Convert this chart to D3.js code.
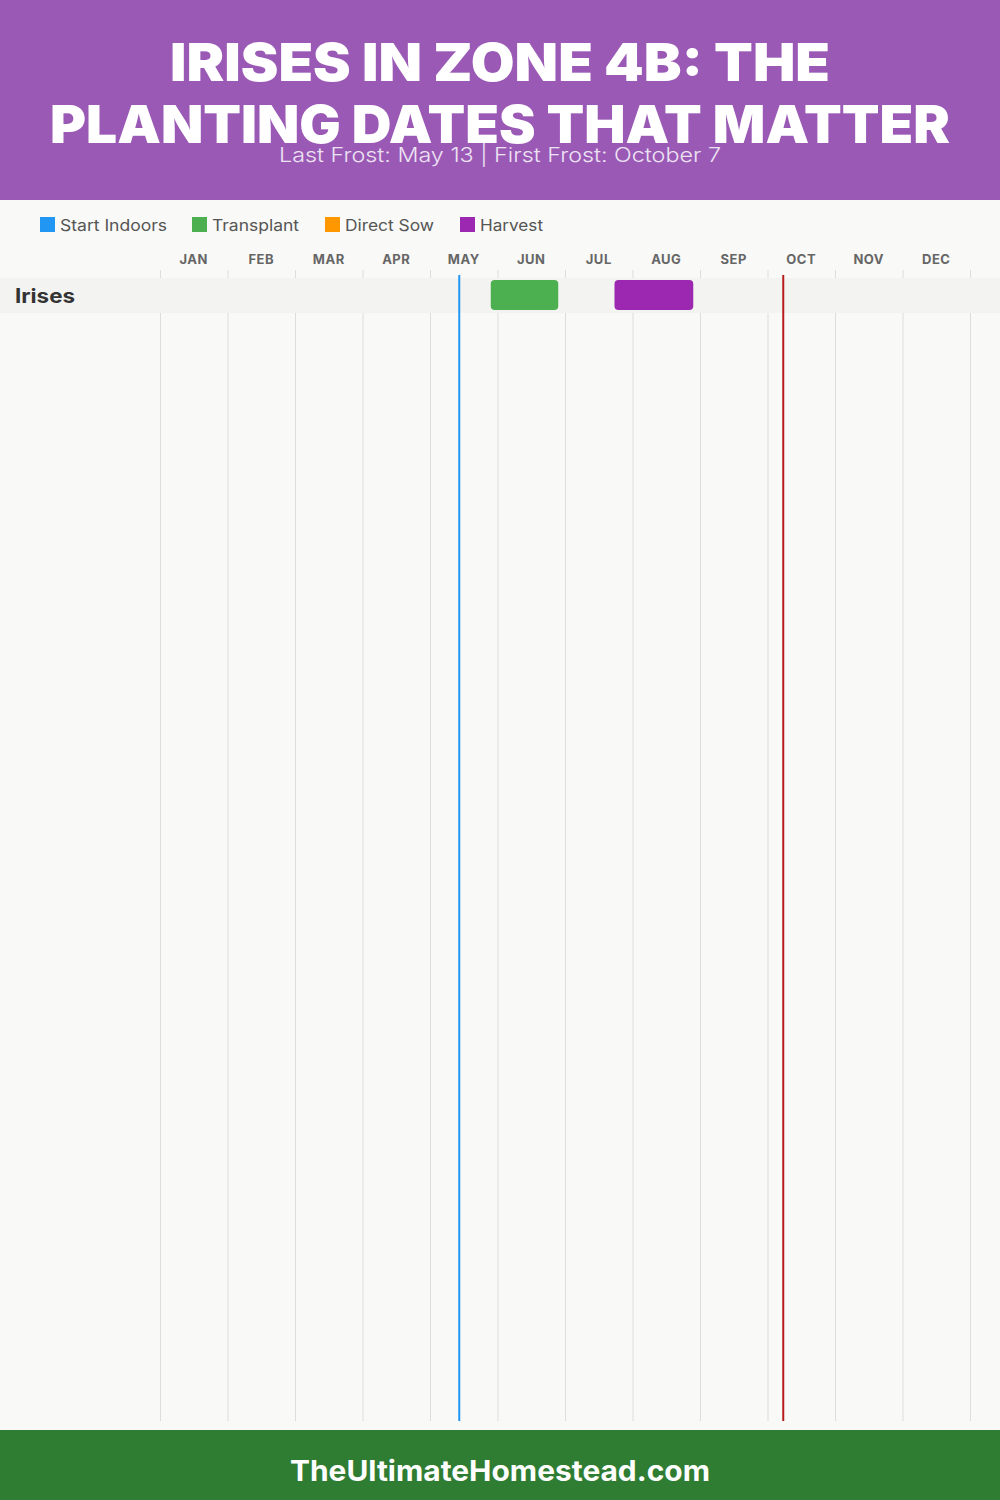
<!DOCTYPE html>
<html>
<head>
<meta charset="utf-8">
<script src="https://cdn.jsdelivr.net/npm/d3@7"></script>
<style>
  html, body { margin: 0; padding: 0; background: #f9f9f7; }
  svg { display: block; }
</style>
</head>
<body>
<svg id="chart" width="1000" height="1500"></svg>
<script>
// ---- data ----
const titleLines = ["IRISES IN ZONE 4B: THE", "PLANTING DATES THAT MATTER"];
const subtitle = "Last Frost: May 13 | First Frost: October 7";
const months = ["JAN","FEB","MAR","APR","MAY","JUN","JUL","AUG","SEP","OCT","NOV","DEC"];
const legendNames = ["Start Indoors", "Transplant", "Direct Sow", "Harvest"];
const legendColors = ["#2196F3", "#4CAF50", "#FF9800", "#9C27B0"];
const crops = ["Irises"];
// activity periods: [crop, activity, start (month, day), end (month, day)]
const periods = [
  { crop: "Irises", activity: "Transplant", start: [5, 27], end: [6, 27] },
  { crop: "Irises", activity: "Harvest",    start: [7, 22], end: [8, 27] }
];
const frostDates = [
  { name: "Last Frost",  date: [5, 13], color: "#2196F3" },
  { name: "First Frost", date: [10, 7], color: "#B71C1C" }
];
const footerText = "TheUltimateHomestead.com";

// ---- drawing ----
const W = 1000, H = 1500;
const svg = d3.select("#chart");
const FONT = "Inter, 'Open Sans', sans-serif";

const x = d3.scaleLinear().domain([0, 12]).range([160, 970]);
const dateX = ([m, d]) => x(m - 1 + d / 30);
const colorOf = d3.scaleOrdinal().domain(legendNames).range(legendColors);

// background
svg.append("rect").attr("width", W).attr("height", H).attr("fill", "#f9f9f7");

// header
svg.append("rect").attr("x", 0).attr("y", 0).attr("width", W).attr("height", 200).attr("fill", "#9B59B6");
const tWidths = [660, 900];
const tBase = [81, 143];
titleLines.forEach((t, i) => {
  svg.append("text")
    .attr("x", W / 2).attr("y", tBase[i])
    .attr("text-anchor", "middle")
    .attr("font-family", FONT)
    .attr("font-weight", 900)
    .attr("font-size", 52)
    .attr("fill", "#ffffff")
    .attr("textLength", tWidths[i])
    .attr("lengthAdjust", "spacingAndGlyphs")
    .text(t);
});
svg.append("text")
  .attr("x", W / 2).attr("y", 162)
  .attr("text-anchor", "middle")
  .attr("font-family", FONT)
  .attr("font-weight", 300)
  .attr("font-size", 20)
  .attr("fill", "#ece3f2")
  .attr("textLength", 442)
  .attr("lengthAdjust", "spacingAndGlyphs")
  .text(subtitle);

// legend
const legendX = [40, 192, 325, 460];
const legendW = [107, 87, 89, 63];
const lg = svg.append("g");
legendNames.forEach((n, i) => {
  lg.append("rect").attr("x", legendX[i]).attr("y", 217).attr("width", 15).attr("height", 15)
    .attr("fill", colorOf(n));
  lg.append("text").attr("x", legendX[i] + 20).attr("y", 231)
    .attr("font-family", FONT).attr("font-size", 16).attr("fill", "#555")
    .attr("textLength", legendW[i]).attr("lengthAdjust", "spacingAndGlyphs")
    .text(n);
});

// month gridlines
const gridTop = 270, gridBottom = 1421;
svg.append("g").selectAll("line").data(d3.range(0, 13)).join("line")
  .attr("x1", d => x(d) + 0.5).attr("x2", d => x(d) + 0.5)
  .attr("y1", gridTop).attr("y2", gridBottom)
  .attr("stroke", "#dddddd").attr("stroke-width", 1);

// month labels
svg.append("g").selectAll("text").data(months).join("text")
  .attr("x", (d, i) => x(i + 0.5))
  .attr("y", 264)
  .attr("text-anchor", "middle")
  .attr("font-family", FONT).attr("font-weight", 700).attr("font-size", 13)
  .attr("letter-spacing", 0.5)
  .attr("fill", "#666")
  .text(d => d);

// rows
const y = d3.scaleBand().domain(crops).range([278, 278 + 35 * crops.length]);
svg.append("g").selectAll("rect").data(crops).join("rect")
  .attr("x", 0).attr("width", W)
  .attr("y", d => y(d)).attr("height", y.bandwidth())
  .attr("fill", "#f3f3f1");
svg.append("g").selectAll("text").data(crops).join("text")
  .attr("x", 15).attr("y", d => y(d) + y.bandwidth() / 2 + 7)
  .attr("font-family", FONT).attr("font-weight", 700).attr("font-size", 20)
  .attr("fill", "#333")
  .attr("textLength", 60).attr("lengthAdjust", "spacingAndGlyphs")
  .text(d => d);

// bars
svg.append("g").selectAll("rect").data(periods).join("rect")
  .attr("x", d => dateX(d.start))
  .attr("width", d => dateX(d.end) - dateX(d.start))
  .attr("y", d => y(d.crop) + 2)
  .attr("height", 30)
  .attr("rx", 4)
  .attr("fill", d => colorOf(d.activity));

// frost lines
svg.append("g").selectAll("line").data(frostDates).join("line")
  .attr("x1", d => dateX(d.date)).attr("x2", d => dateX(d.date))
  .attr("y1", 275).attr("y2", gridBottom)
  .attr("stroke", d => d.color).attr("stroke-width", 2);

// footer
svg.append("rect").attr("x", 0).attr("y", 1430).attr("width", W).attr("height", 70).attr("fill", "#2E7D32");
svg.append("text")
  .attr("x", W / 2).attr("y", 1481)
  .attr("text-anchor", "middle")
  .attr("font-family", FONT).attr("font-weight", 700).attr("font-size", 28)
  .attr("fill", "#ffffff")
  .attr("textLength", 420)
  .attr("lengthAdjust", "spacingAndGlyphs")
  .text(footerText);
</script>
</body>
</html>
